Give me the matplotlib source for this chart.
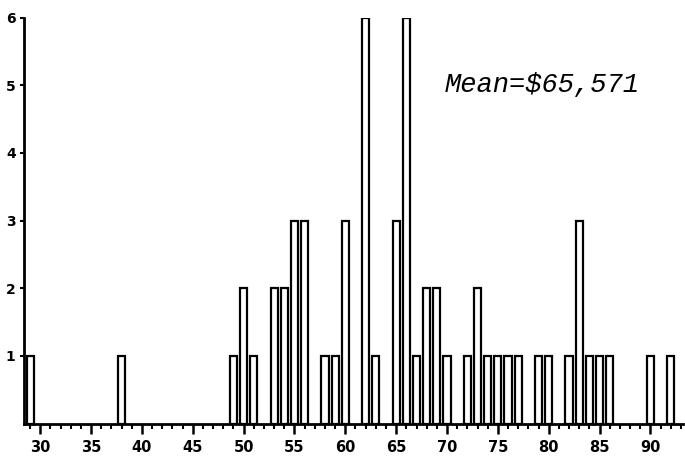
import matplotlib.pyplot as plt
from matplotlib.ticker import MultipleLocator

# salary in $ thousands, number of cases
salaries = [29, 38, 49, 50, 51, 53, 54, 55, 56, 58, 59, 60, 62, 63, 65, 66, 67,
            68, 69, 70, 72, 73, 74, 75, 76, 77, 79, 80, 82, 83, 84, 85, 86, 90, 92]
counts = [1, 1, 1, 2, 1, 2, 2, 3, 3, 1, 1, 3, 6, 1, 3, 6, 1,
          2, 2, 1, 1, 2, 1, 1, 1, 1, 1, 1, 1, 3, 1, 1, 1, 1, 1]
x_ticks = [30, 35, 40, 45, 50, 55, 60, 65, 70, 75, 80, 85, 90]
y_ticks = [1, 2, 3, 4, 5, 6]
mean_label = "Mean=\\$65,571"

fig = plt.figure(figsize=(6.85, 4.76), dpi=100)
ax = fig.add_axes([0.035, 0.11, 0.962, 0.853])

ax.bar(salaries, counts, width=0.7, color="white", edgecolor="black",
       linewidth=1.6, align="center")

ax.set_xlim(28.4, 93.2)
ax.set_ylim(0, 6)
ax.set_xticks(x_ticks)
ax.xaxis.set_minor_locator(MultipleLocator(1))
ax.set_yticks(y_ticks)

for side in ("top", "right"):
    ax.spines[side].set_visible(False)
for side in ("left", "bottom"):
    ax.spines[side].set_linewidth(2)

ax.tick_params(axis="x", which="major", direction="out", length=7, width=1.8,
               labelsize=10.5, pad=5)
ax.tick_params(axis="x", which="minor", direction="out", length=3.5, width=1.5)
ax.tick_params(axis="y", direction="out", length=3, width=1.5, labelsize=10, pad=3)
for lab in ax.get_xticklabels() + ax.get_yticklabels():
    lab.set_fontweight("bold")

ax.text(69.8, 5.0, mean_label, fontsize=19.5, style="italic",
        family=["Liberation Mono", "DejaVu Sans Mono"], ha="left", va="center")

fig.savefig("out.png", dpi=100)
